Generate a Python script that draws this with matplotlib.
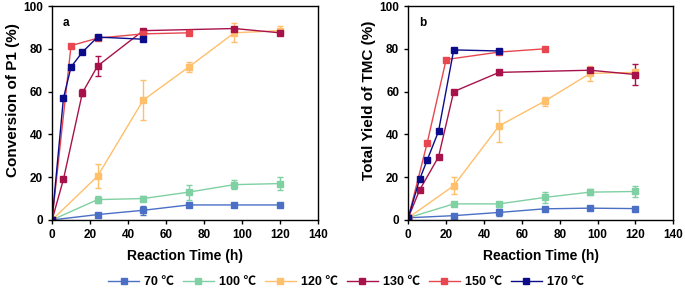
import matplotlib.pyplot as plt
from matplotlib.lines import Line2D

plt.rcParams['font.family'] = ['Liberation Sans', 'Noto Sans CJK SC', 'DejaVu Sans']
plt.rcParams['font.weight'] = 'bold'

labels = ['70 ℃', '100 ℃', '120 ℃', '130 ℃', '150 ℃', '170 ℃']
colors = ['#4a6fc4', '#7fd0a2', '#ffbf6b', '#a8124a', '#e8474f', '#0c0c8a']

# panel a: conversion of P1
a_t = [
    [0, 24, 48, 72, 96, 120],
    [0, 24, 48, 72, 96, 120],
    [0, 24, 48, 72, 96, 120],
    [0, 6, 16, 24, 48, 96, 120],
    [0, 10, 24, 48, 72],
    [0, 6, 10, 16, 24, 48],
]
a_y = [
    [0, 2.5, 4.5, 7, 7, 7],
    [0, 9.5, 10, 13, 16.5, 17],
    [0, 20.5, 56, 71.5, 87.5, 88.5],
    [0, 19, 59.5, 72, 88.5, 89.5, 87.5],
    [0, 81.5, 85, 87, 87.5],
    [0, 57, 71.5, 78.5, 85.5, 84.5],
]
a_err = [
    [0, 0.8, 2, 1, 0.8, 0.8],
    [0, 1.5, 1, 3.5, 2, 3],
    [0, 5.5, 9.5, 2.5, 4.5, 2],
    [0, 0.5, 1.5, 4.5, 1, 0.5, 1],
    [0, 0.5, 0.5, 0.5, 0.5],
    [0, 0.5, 0.5, 0.5, 0.5, 0.5],
]

# panel b: total yield of TMC
b_t = [
    [0, 24, 48, 72, 96, 120],
    [0, 24, 48, 72, 96, 120],
    [0, 24, 48, 72, 96, 120],
    [0, 6, 16, 24, 48, 96, 120],
    [0, 10, 20, 48, 72],
    [0, 6, 10, 16, 24, 48],
]
b_y = [
    [1, 2, 3.5, 5.2, 5.5, 5.3],
    [1, 7.5, 7.5, 10.5, 13, 13.3],
    [1, 16, 44, 55.5, 68.5, 69],
    [1, 14, 29.5, 60, 69, 70, 68],
    [1, 36, 75, 78.5, 80],
    [1, 19, 28, 41.5, 79.5, 79],
]
b_err = [
    [0, 0.5, 1.5, 0.8, 0.8, 0.8],
    [0, 1, 1, 2.5, 1.5, 2.5],
    [0, 4, 7.5, 2, 3.5, 1],
    [0, 0.5, 0.5, 0.5, 1, 1, 4.8],
    [0, 0.5, 0.5, 0.5, 0.5],
    [0, 0.5, 0.5, 0.5, 0.5, 0.5],
]

fig = plt.figure(figsize=(6.85, 2.89), dpi=100)
ax1 = fig.add_axes([0.076, 0.239, 0.388, 0.74])
ax2 = fig.add_axes([0.596, 0.239, 0.387, 0.74])


def draw(ax, ts, ys, errs, ylabel, tag):
    for t, y, e, c in zip(ts, ys, errs, colors):
        ax.errorbar(t, y, yerr=e, color=c, lw=1, marker='s', ms=5,
                    capsize=2.5, elinewidth=1, capthick=1)
    ax.set_xlim(0, 140)
    ax.set_ylim(0, 100)
    ax.set_xticks(range(0, 141, 20))
    ax.set_yticks(range(0, 101, 20))
    ax.tick_params(labelsize=8.5, length=3, width=1)
    for s in ax.spines.values():
        s.set_linewidth(1)
    ax.set_xlabel('Reaction Time (h)', fontsize=10, fontweight='bold', labelpad=6)
    ax.set_ylabel(ylabel, fontsize=11, fontweight='bold')
    ax.yaxis.set_label_coords(-0.12, 0.56)
    ax.text(0.04, 0.95, tag, transform=ax.transAxes, fontsize=8.5,
            fontweight='bold', va='top')


draw(ax1, a_t, a_y, a_err, 'Conversion of P1 (%)', 'a')
draw(ax2, b_t, b_y, b_err, 'Total Yield of TMC (%)', 'b')

handles = [Line2D([], [], color=c, lw=1, marker='s', ms=4) for c in colors]
fig.legend(handles, labels, loc='center', bbox_to_anchor=(0.505, 0.024),
           ncol=6, frameon=False, fontsize=9, handlelength=2.5,
           columnspacing=0.7, handletextpad=0.4, borderpad=0)

fig.savefig('out.png', dpi=100)
